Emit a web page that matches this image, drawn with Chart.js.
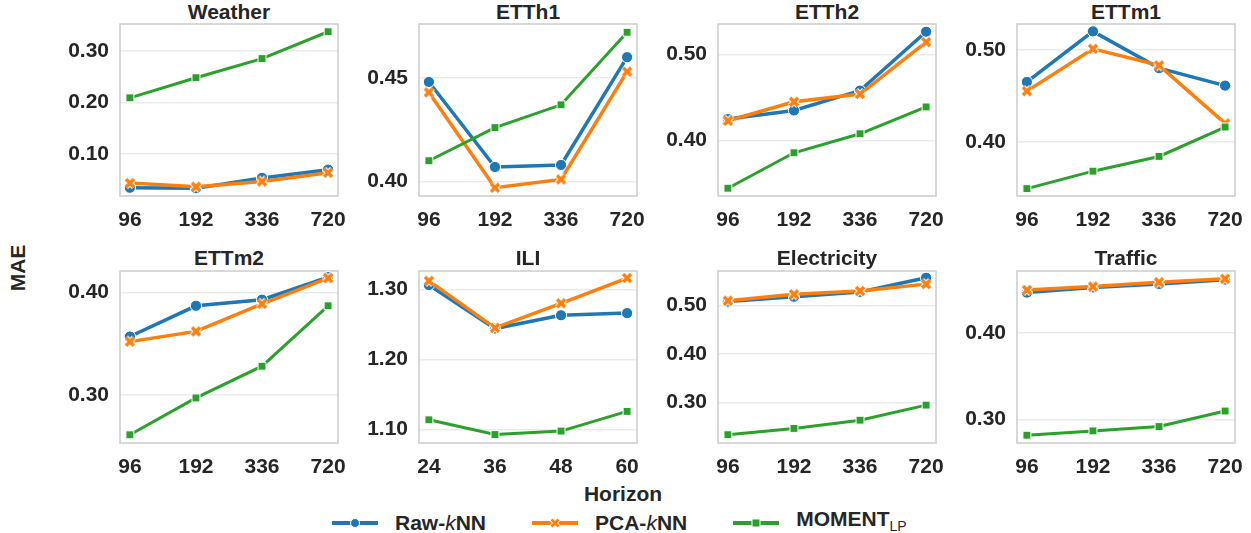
<!DOCTYPE html>
<html lang="en">
<head>
  <meta charset="UTF-8">
  <title>MAE vs Horizon</title>
  <script src="https://cdn.jsdelivr.net/npm/chart.js"></script>
  <style>
    body {
      margin: 0;
      background: #fff;
      font-family: 'Liberation Sans', Arial, sans-serif;
      color: #262626;
    }
    .page {
      position: relative;
      width: 1251px;
      height: 533px;
      overflow: hidden;
    }
    canvas { position: absolute; }
    .title {
      position: absolute;
      width: 218px;
      text-align: center;
      font-size: 21px;
      font-weight: bold;
      line-height: 21px;
    }
    .ylabel {
      position: absolute;
      left: 17px;
      top: 268px;
      font-size: 21px;
      font-weight: bold;
      line-height: 21px;
      transform: translate(-50%, -50%) rotate(-90deg);
    }
    .xlabel {
      position: absolute;
      left: 623px;
      top: 483px;
      font-size: 21px;
      font-weight: bold;
      line-height: 21px;
      transform: translateX(-50%);
    }
    .legend {
      position: absolute;
      left: 332px;
      top: 508px;
      display: flex;
      gap: 46px;
      font-size: 21px;
      font-weight: bold;
      line-height: 21px;
    }
    .legend .item { display: flex; align-items: center; gap: 17px; }
    .legend sub { font-size: 14px; font-weight: normal; vertical-align: -5px; }
    .legend i { font-weight: normal; }
  </style>
</head>
<body>
<div class="page" id="page">
  <div class="ylabel">MAE</div>
  <div class="xlabel">Horizon</div>
  <div class="legend">
    <div class="item">
      <svg width="46" height="14"><line x1="0" y1="7" x2="46" y2="7" stroke="#1f77b4" stroke-width="4"/><circle cx="23" cy="7" r="4.5" fill="#1f77b4" stroke="#fff" stroke-width="1"/></svg>
      <span>Raw-<i>k</i>NN</span>
    </div>
    <div class="item">
      <svg width="46" height="14"><line x1="0" y1="7" x2="46" y2="7" stroke="#ff7f0e" stroke-width="4"/><path d="M19.5 3.5 L26.5 10.5 M26.5 3.5 L19.5 10.5" stroke="#fff" stroke-width="4.5"/><path d="M19.5 3.5 L26.5 10.5 M26.5 3.5 L19.5 10.5" stroke="#ff7f0e" stroke-width="2.6"/></svg>
      <span>PCA-<i>k</i>NN</span>
    </div>
    <div class="item">
      <svg width="46" height="14"><line x1="0" y1="7" x2="46" y2="7" stroke="#2ca02c" stroke-width="4"/><rect x="19" y="3" width="8" height="8" fill="#2ca02c" stroke="#fff" stroke-width="1"/></svg>
      <span>MOMENT<sub>LP</sub></span>
    </div>
  </div>
</div>

<script>
  // horizons
  const horizons = ['96', '192', '336', '720'];
  const iliHorizons = ['24', '36', '48', '60'];

  // MAE per dataset (Raw-kNN, PCA-kNN, MOMENT_LP)
  const weatherRaw = [0.035, 0.034, 0.054, 0.070];
  const weatherPca = [0.044, 0.037, 0.047, 0.064];
  const weatherMoment = [0.209, 0.248, 0.285, 0.337];

  const etth1Raw = [0.448, 0.407, 0.408, 0.460];
  const etth1Pca = [0.443, 0.397, 0.401, 0.453];
  const etth1Moment = [0.410, 0.426, 0.437, 0.472];

  const etth2Raw = [0.425, 0.435, 0.458, 0.526];
  const etth2Pca = [0.423, 0.445, 0.454, 0.514];
  const etth2Moment = [0.345, 0.386, 0.408, 0.439];

  const ettm1Raw = [0.465, 0.520, 0.480, 0.461];
  const ettm1Pca = [0.455, 0.501, 0.483, 0.420];
  const ettm1Moment = [0.349, 0.368, 0.384, 0.416];

  const ettm2Raw = [0.357, 0.387, 0.393, 0.415];
  const ettm2Pca = [0.352, 0.362, 0.389, 0.414];
  const ettm2Moment = [0.261, 0.297, 0.328, 0.387];

  const iliRaw = [1.306, 1.244, 1.263, 1.266];
  const iliPca = [1.312, 1.245, 1.280, 1.316];
  const iliMoment = [1.114, 1.093, 1.098, 1.126];

  const elecRaw = [0.508, 0.518, 0.528, 0.557];
  const elecPca = [0.510, 0.523, 0.530, 0.544];
  const elecMoment = [0.234, 0.247, 0.264, 0.295];

  const trafficRaw = [0.447, 0.453, 0.457, 0.462];
  const trafficPca = [0.450, 0.454, 0.459, 0.463];
  const trafficMoment = [0.282, 0.287, 0.292, 0.310];

  // y tick labels per panel
  const weatherTicks = [0.10, 0.20, 0.30];
  const etth1Ticks = [0.40, 0.45];
  const etth2Ticks = [0.40, 0.50];
  const ettm1Ticks = [0.40, 0.50];
  const ettm2Ticks = [0.30, 0.40];
  const iliTicks = [1.10, 1.20, 1.30];
  const elecTicks = [0.30, 0.40, 0.50];
  const trafficTicks = [0.30, 0.40];

  const panels = [
    {title: 'Weather', labels: horizons, raw: weatherRaw, pca: weatherPca, moment: weatherMoment, ticks: weatherTicks, min: 0.019, max: 0.352},
    {title: 'ETTh1', labels: horizons, raw: etth1Raw, pca: etth1Pca, moment: etth1Moment, ticks: etth1Ticks, min: 0.393, max: 0.476},
    {title: 'ETTh2', labels: horizons, raw: etth2Raw, pca: etth2Pca, moment: etth2Moment, ticks: etth2Ticks, min: 0.336, max: 0.535},
    {title: 'ETTm1', labels: horizons, raw: ettm1Raw, pca: ettm1Pca, moment: ettm1Moment, ticks: ettm1Ticks, min: 0.341, max: 0.528},
    {title: 'ETTm2', labels: horizons, raw: ettm2Raw, pca: ettm2Pca, moment: ettm2Moment, ticks: ettm2Ticks, min: 0.253, max: 0.421},
    {title: 'ILI', labels: iliHorizons, raw: iliRaw, pca: iliPca, moment: iliMoment, ticks: iliTicks, min: 1.081, max: 1.326},
    {title: 'Electricity', labels: horizons, raw: elecRaw, pca: elecPca, moment: elecMoment, ticks: elecTicks, min: 0.217, max: 0.571},
    {title: 'Traffic', labels: horizons, raw: trafficRaw, pca: trafficPca, moment: trafficMoment, ticks: trafficTicks, min: 0.273, max: 0.472}
  ];

  const BLUE = '#1f77b4', ORANGE = '#ff7f0e', GREEN = '#2ca02c';
  const boxW = 218, boxH = 172, yAxisW = 75, padTop = 30, padRight = 20, xAxisH = 34;
  const rowTop = [24, 271];
  const titleTop = [0.5, 246.5];

  Chart.defaults.font.family = "'Liberation Sans', Arial, sans-serif";
  Chart.defaults.font.size = 21;
  Chart.defaults.font.weight = 'bold';
  Chart.defaults.color = '#262626';

  // seaborn-like filled X marker with white edge
  function makeX(color) {
    const c = document.createElement('canvas');
    c.width = 14; c.height = 14;
    const g = c.getContext('2d');
    const stroke = (w, col) => {
      g.strokeStyle = col; g.lineWidth = w;
      g.beginPath();
      g.moveTo(3, 3); g.lineTo(11, 11);
      g.moveTo(11, 3); g.lineTo(3, 11);
      g.stroke();
    };
    stroke(5.6, '#fff');
    stroke(3.4, color);
    return c;
  }
  const xMarker = makeX(ORANGE);

  const boxPlugin = {
    id: 'box',
    beforeDatasetsDraw(chart) {
      const a = chart.chartArea, ctx = chart.ctx;
      ctx.save();
      ctx.strokeStyle = '#cccccc';
      ctx.lineWidth = 1.5;
      ctx.strokeRect(a.left, a.top, a.right - a.left, a.bottom - a.top);
      ctx.restore();
    }
  };

  const toPoints = arr => arr.map((v, i) => ({x: i, y: v}));

  const page = document.getElementById('page');

  panels.forEach((p, k) => {
    const row = Math.floor(k / 4), col = k % 4;
    const boxLeft = 120 + 299 * col;
    const boxTop = rowTop[row];

    const t = document.createElement('div');
    t.className = 'title';
    t.textContent = p.title;
    t.style.left = boxLeft + 'px';
    t.style.top = titleTop[row] + 'px';
    page.appendChild(t);

    const cv = document.createElement('canvas');
    const w = yAxisW + boxW + padRight, h = padTop + boxH + xAxisH;
    cv.width = w; cv.height = h;
    cv.style.left = (boxLeft - yAxisW) + 'px';
    cv.style.top = (boxTop - padTop) + 'px';
    page.appendChild(cv);

    new Chart(cv.getContext('2d'), {
      type: 'line',
      data: {
        datasets: [
          {label: 'Raw-kNN', data: toPoints(p.raw), borderColor: BLUE, backgroundColor: BLUE,
           borderWidth: 3.5, pointStyle: 'circle', pointRadius: 5.6, pointBorderColor: '#fff',
           pointBorderWidth: 1, order: 2, clip: false},
          {label: 'PCA-kNN', data: toPoints(p.pca), borderColor: ORANGE, backgroundColor: ORANGE,
           borderWidth: 3.5, pointStyle: xMarker, pointRadius: 6, order: 1, clip: false},
          {label: 'MOMENT_LP', data: toPoints(p.moment), borderColor: GREEN, backgroundColor: GREEN,
           borderWidth: 3, pointStyle: 'rect', pointRadius: 5.6, pointBorderColor: '#fff',
           pointBorderWidth: 1, order: 0, clip: false}
        ]
      },
      options: {
        responsive: false,
        animation: false,
        layout: {padding: {top: padTop, right: padRight, left: 0, bottom: 0}},
        plugins: {legend: {display: false}, tooltip: {enabled: false}},
        scales: {
          x: {
            type: 'linear', min: -0.15, max: 3.15,
            grid: {display: false},
            border: {display: false},
            afterBuildTicks: s => { s.ticks = [0, 1, 2, 3].map(v => ({value: v})); },
            afterFit: s => { s.height = xAxisH; },
            ticks: {callback: v => p.labels[v], padding: 4, maxRotation: 0}
          },
          y: {
            min: p.min, max: p.max,
            grid: {color: '#ebebeb', lineWidth: 1.5, drawTicks: false},
            border: {display: false},
            afterBuildTicks: s => { s.ticks = p.ticks.map(v => ({value: v})); },
            afterFit: s => { s.width = yAxisW; },
            ticks: {callback: v => v.toFixed(2), padding: 11}
          }
        }
      },
      plugins: [boxPlugin]
    });
  });
</script>
</body>
</html>
